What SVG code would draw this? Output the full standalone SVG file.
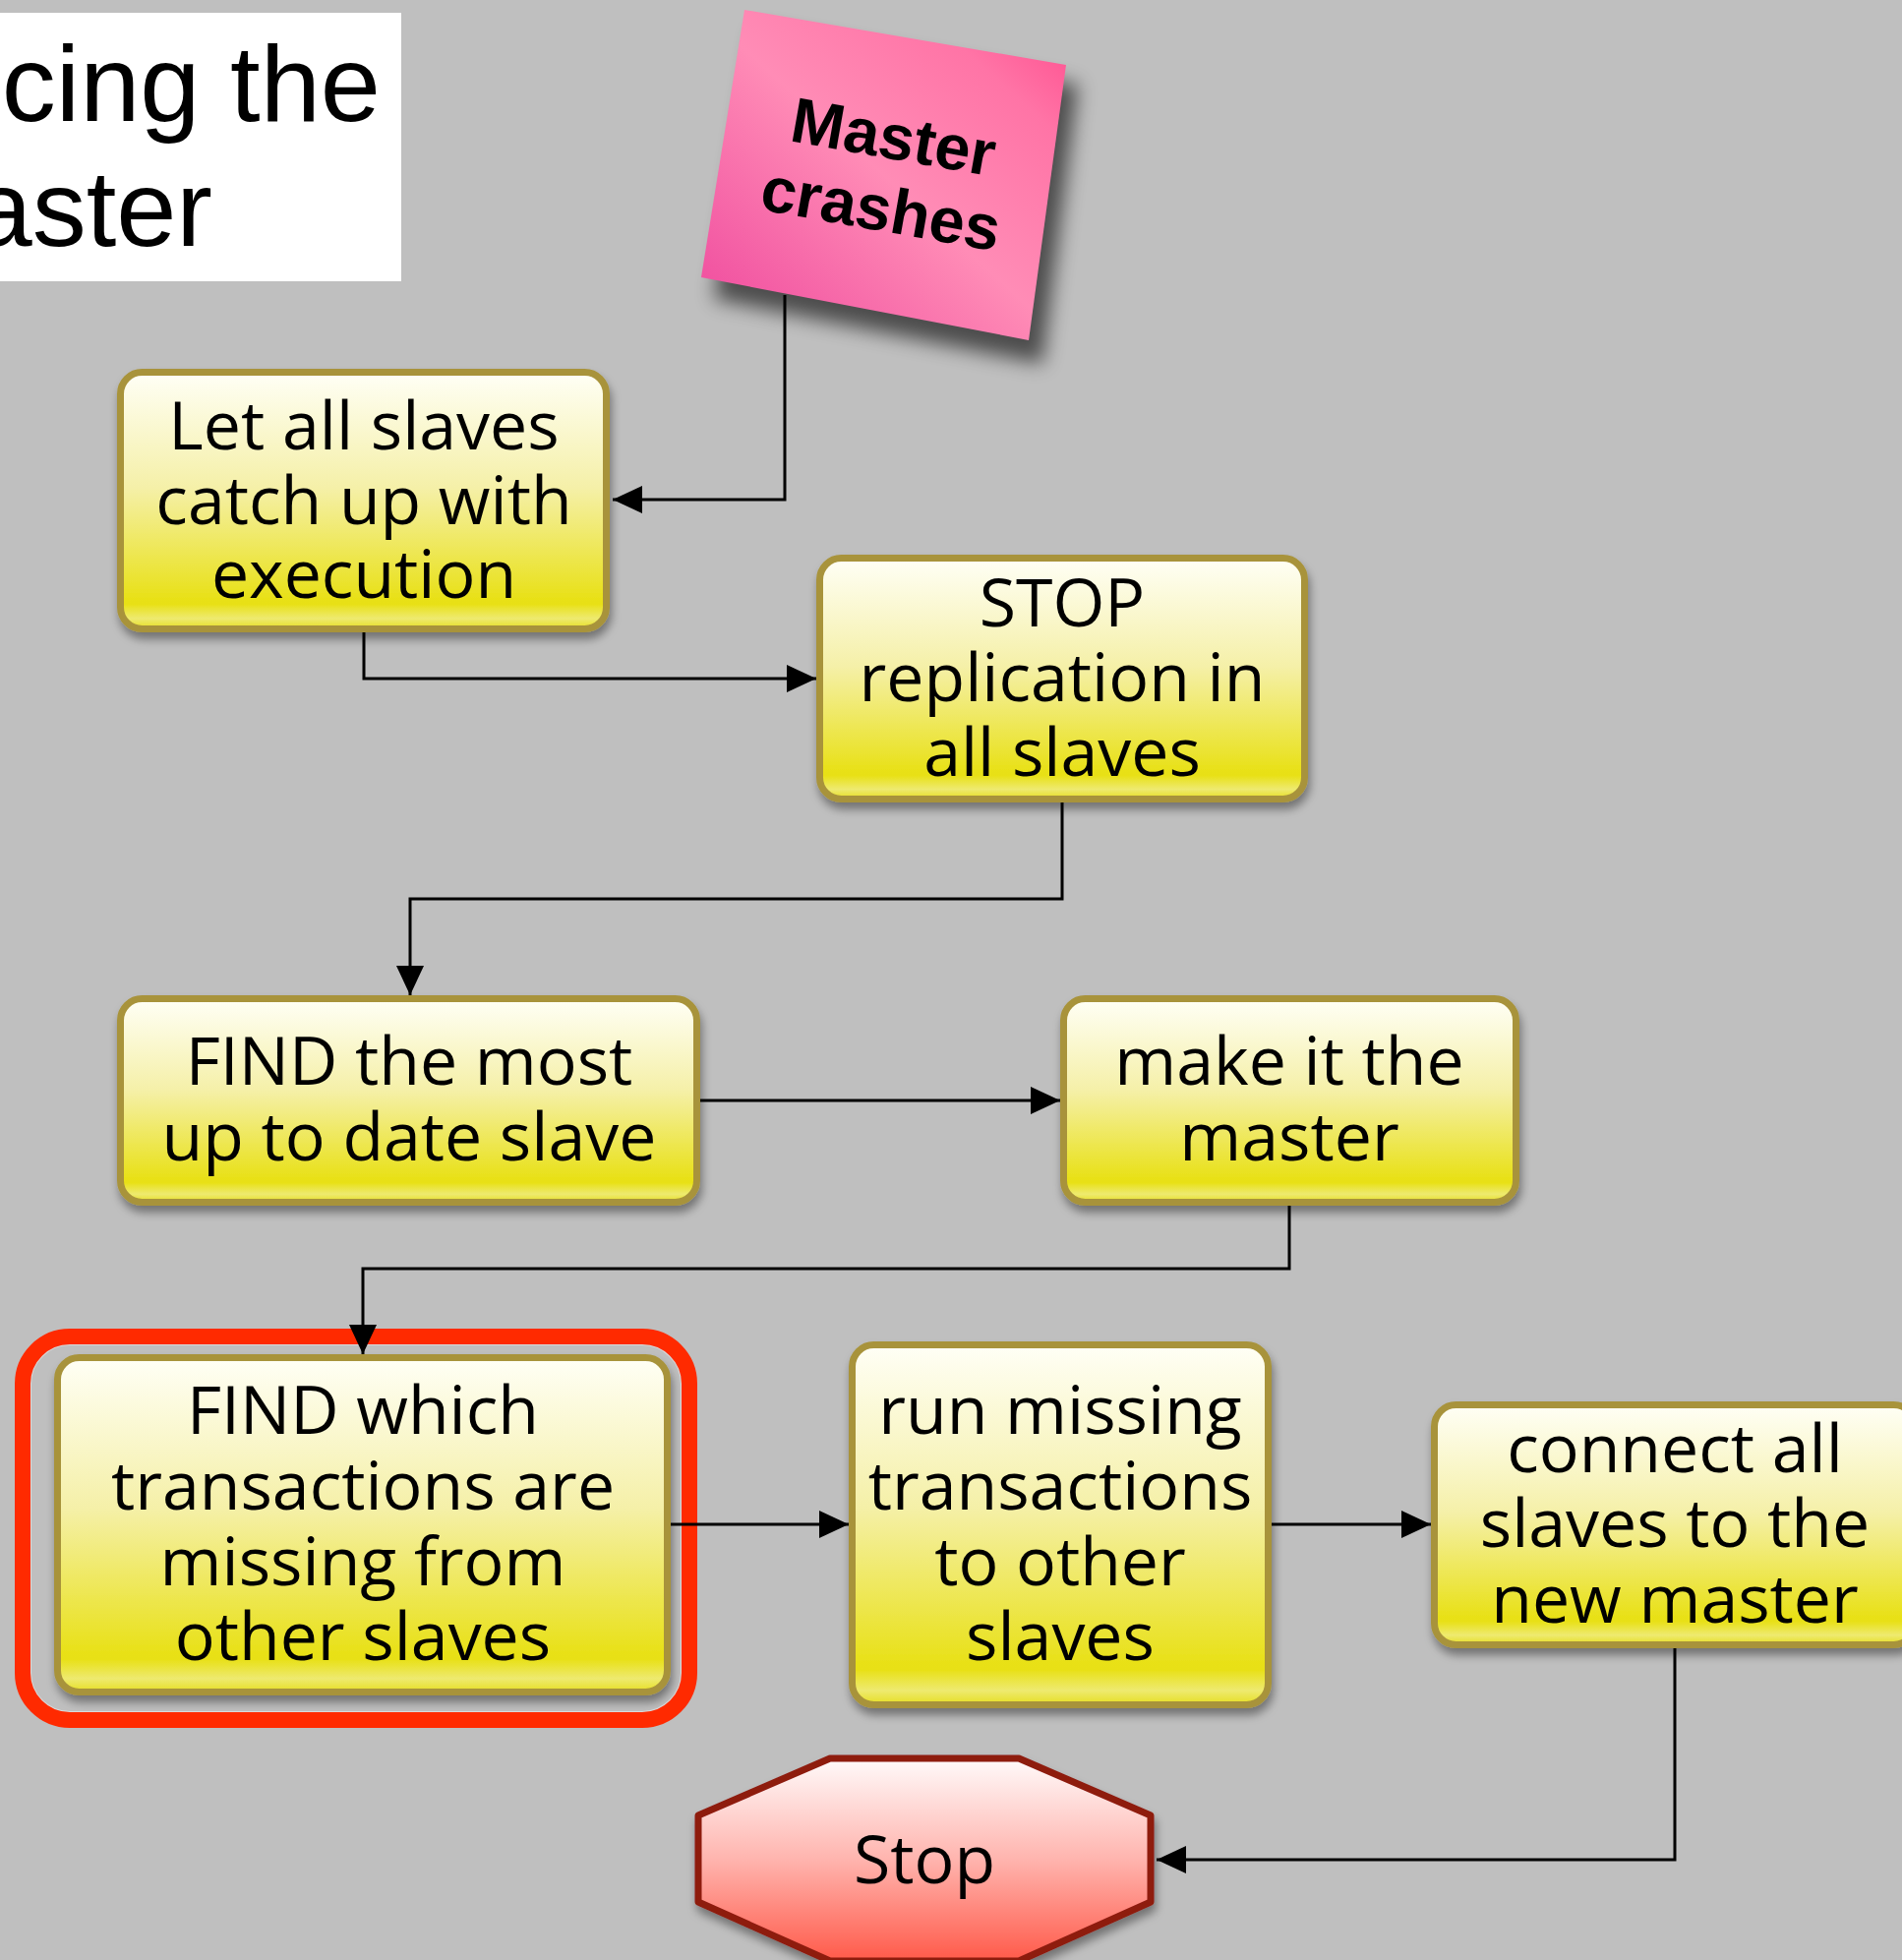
<svg xmlns="http://www.w3.org/2000/svg" width="1934" height="1993" viewBox="0 0 1934 1993">
  <defs>
    <linearGradient id="yel" x1="0" y1="0" x2="0" y2="1">
      <stop offset="0" stop-color="#fffff6"/>
      <stop offset="0.45" stop-color="#f5f0a8"/>
      <stop offset="0.9" stop-color="#e8e012"/>
      <stop offset="0.96" stop-color="#eeea70"/>
      <stop offset="1" stop-color="#e6de20"/>
    </linearGradient>
    <linearGradient id="pink" x1="0" y1="1" x2="1" y2="0">
      <stop offset="0" stop-color="#ee469c"/>
      <stop offset="0.5" stop-color="#ff8cb6"/>
      <stop offset="0.8" stop-color="#ff74a6"/>
      <stop offset="1" stop-color="#ff4a8c"/>
    </linearGradient>
    <linearGradient id="red" x1="0" y1="0" x2="0" y2="1">
      <stop offset="0" stop-color="#fffafa"/>
      <stop offset="0.5" stop-color="#ffb4ae"/>
      <stop offset="1" stop-color="#ff5a4a"/>
    </linearGradient>
    <filter id="shadow" x="-10%" y="-10%" width="125%" height="130%">
      <feDropShadow dx="2" dy="7" stdDeviation="5" flood-color="#000" flood-opacity="0.4"/>
    </filter>
    <filter id="blur" x="-20%" y="-20%" width="140%" height="140%">
      <feGaussianBlur stdDeviation="10"/>
    </filter>
    <marker id="arrow" markerUnits="userSpaceOnUse" markerWidth="30" markerHeight="28" refX="30" refY="14" orient="auto">
      <path d="M0,0 L30,14 L0,28 z" fill="#000"/>
    </marker>
    <style>
      .box { fill: url(#yel); stroke: #a8933a; stroke-width: 7; filter: url(#shadow); }
      .lbl { font-family: "Open Sans", "Noto Sans", "DejaVu Sans", sans-serif; font-size: 68px; fill: #000; text-anchor: middle; }
      .wire { fill: none; stroke: #000; stroke-width: 3; marker-end: url(#arrow); }
    </style>
  </defs>

  <rect x="0" y="0" width="1934" height="1993" fill="#bfbfbf"/>

  <!-- slide title -->
  <g id="title">
    <rect x="0" y="13" width="408" height="273" fill="#fff"/>
    <text x="387" y="123" font-family="Liberation Sans, Arial, sans-serif" font-size="110" text-anchor="end">cing the</text>
    <text x="216" y="250" font-family="Liberation Sans, Arial, sans-serif" font-size="110" text-anchor="end">aster</text>
  </g>

  <!-- sticky note -->
  <g id="note-master-crashes">
    <polygon points="770,30 1096,86 1060,370 726,304" fill="#000" opacity="0.6" filter="url(#blur)"/>
    <polygon points="757,10 1084,66 1046,346 713,282" fill="url(#pink)"/>
    <g transform="translate(902,177) rotate(10)" font-family="Liberation Sans, Arial, sans-serif" font-weight="bold" font-size="65" text-anchor="middle">
      <text x="0" y="-16">Master</text>
      <text x="0" y="58">crashes</text>
    </g>
  </g>

  <!-- process steps -->
  <g id="step-catch-up">
    <rect class="box" x="122.5" y="378.5" width="494" height="261" rx="22"/>
    <text class="lbl" x="370" y="457">Let all slaves</text>
    <text class="lbl" x="370" y="533">catch up with</text>
    <text class="lbl" x="370" y="608">execution</text>
  </g>

  <g id="step-stop-replication">
    <rect class="box" x="833.5" y="567.5" width="493" height="245" rx="22"/>
    <text class="lbl" x="1080" y="637">STOP</text>
    <text class="lbl" x="1080" y="713">replication in</text>
    <text class="lbl" x="1080" y="789">all slaves</text>
  </g>

  <g id="step-find-latest">
    <rect class="box" x="122.5" y="1015.5" width="586" height="207" rx="22"/>
    <text class="lbl" x="416" y="1103">FIND the most</text>
    <text class="lbl" x="416" y="1180">up to date slave</text>
  </g>

  <g id="step-promote">
    <rect class="box" x="1081.5" y="1015.5" width="460" height="207" rx="22"/>
    <text class="lbl" x="1311" y="1103">make it the</text>
    <text class="lbl" x="1311" y="1180">master</text>
  </g>

  <g id="step-find-missing">
    <rect class="box" x="58.5" y="1380.5" width="620" height="340" rx="22"/>
    <text class="lbl" x="369" y="1458">FIND which</text>
    <text class="lbl" x="369" y="1535">transactions are</text>
    <text class="lbl" x="369" y="1612">missing from</text>
    <text class="lbl" x="369" y="1688">other slaves</text>
  </g>

  <g id="step-run-missing">
    <rect class="box" x="866.5" y="1367.5" width="423" height="366" rx="22"/>
    <text class="lbl" x="1078" y="1458">run missing</text>
    <text class="lbl" x="1078" y="1535">transactions</text>
    <text class="lbl" x="1078" y="1612">to other</text>
    <text class="lbl" x="1078" y="1688">slaves</text>
  </g>

  <g id="step-reconnect">
    <rect class="box" x="1458.5" y="1428.5" width="489" height="244" rx="22"/>
    <text class="lbl" x="1703" y="1497">connect all</text>
    <text class="lbl" x="1703" y="1573">slaves to the</text>
    <text class="lbl" x="1703" y="1650">new master</text>
  </g>

  <g id="end-stop">
    <polygon points="844,1788 1036,1788 1170,1846 1170,1934 1036,1994 844,1994 710,1934 710,1846" fill="url(#red)" stroke="#8e1a10" stroke-width="7" stroke-linejoin="round" filter="url(#shadow)"/>
    <text class="lbl" x="940" y="1915">Stop</text>
  </g>

  <!-- highlight around the current step -->
  <g id="highlight">
    <rect x="31" y="1367" width="662" height="374" rx="40" fill="none" stroke="#d9d9d9" stroke-width="2"/>
    <rect x="23" y="1359" width="678" height="390" rx="48" fill="none" stroke="#ff2a00" stroke-width="16"/>
  </g>

  <!-- connectors -->
  <g id="connectors">
    <path class="wire" d="M798,300 V508 H623"/>
    <path class="wire" d="M370,643 V690 H830"/>
    <path class="wire" d="M1080,816 V914 H417 V1012"/>
    <path class="wire" d="M712,1119 H1078"/>
    <path class="wire" d="M1311,1226 V1290 H369 V1377"/>
    <path class="wire" d="M682,1550 H863"/>
    <path class="wire" d="M1293,1550 H1455"/>
    <path class="wire" d="M1703,1676 V1891 H1176"/>
  </g>
</svg>
